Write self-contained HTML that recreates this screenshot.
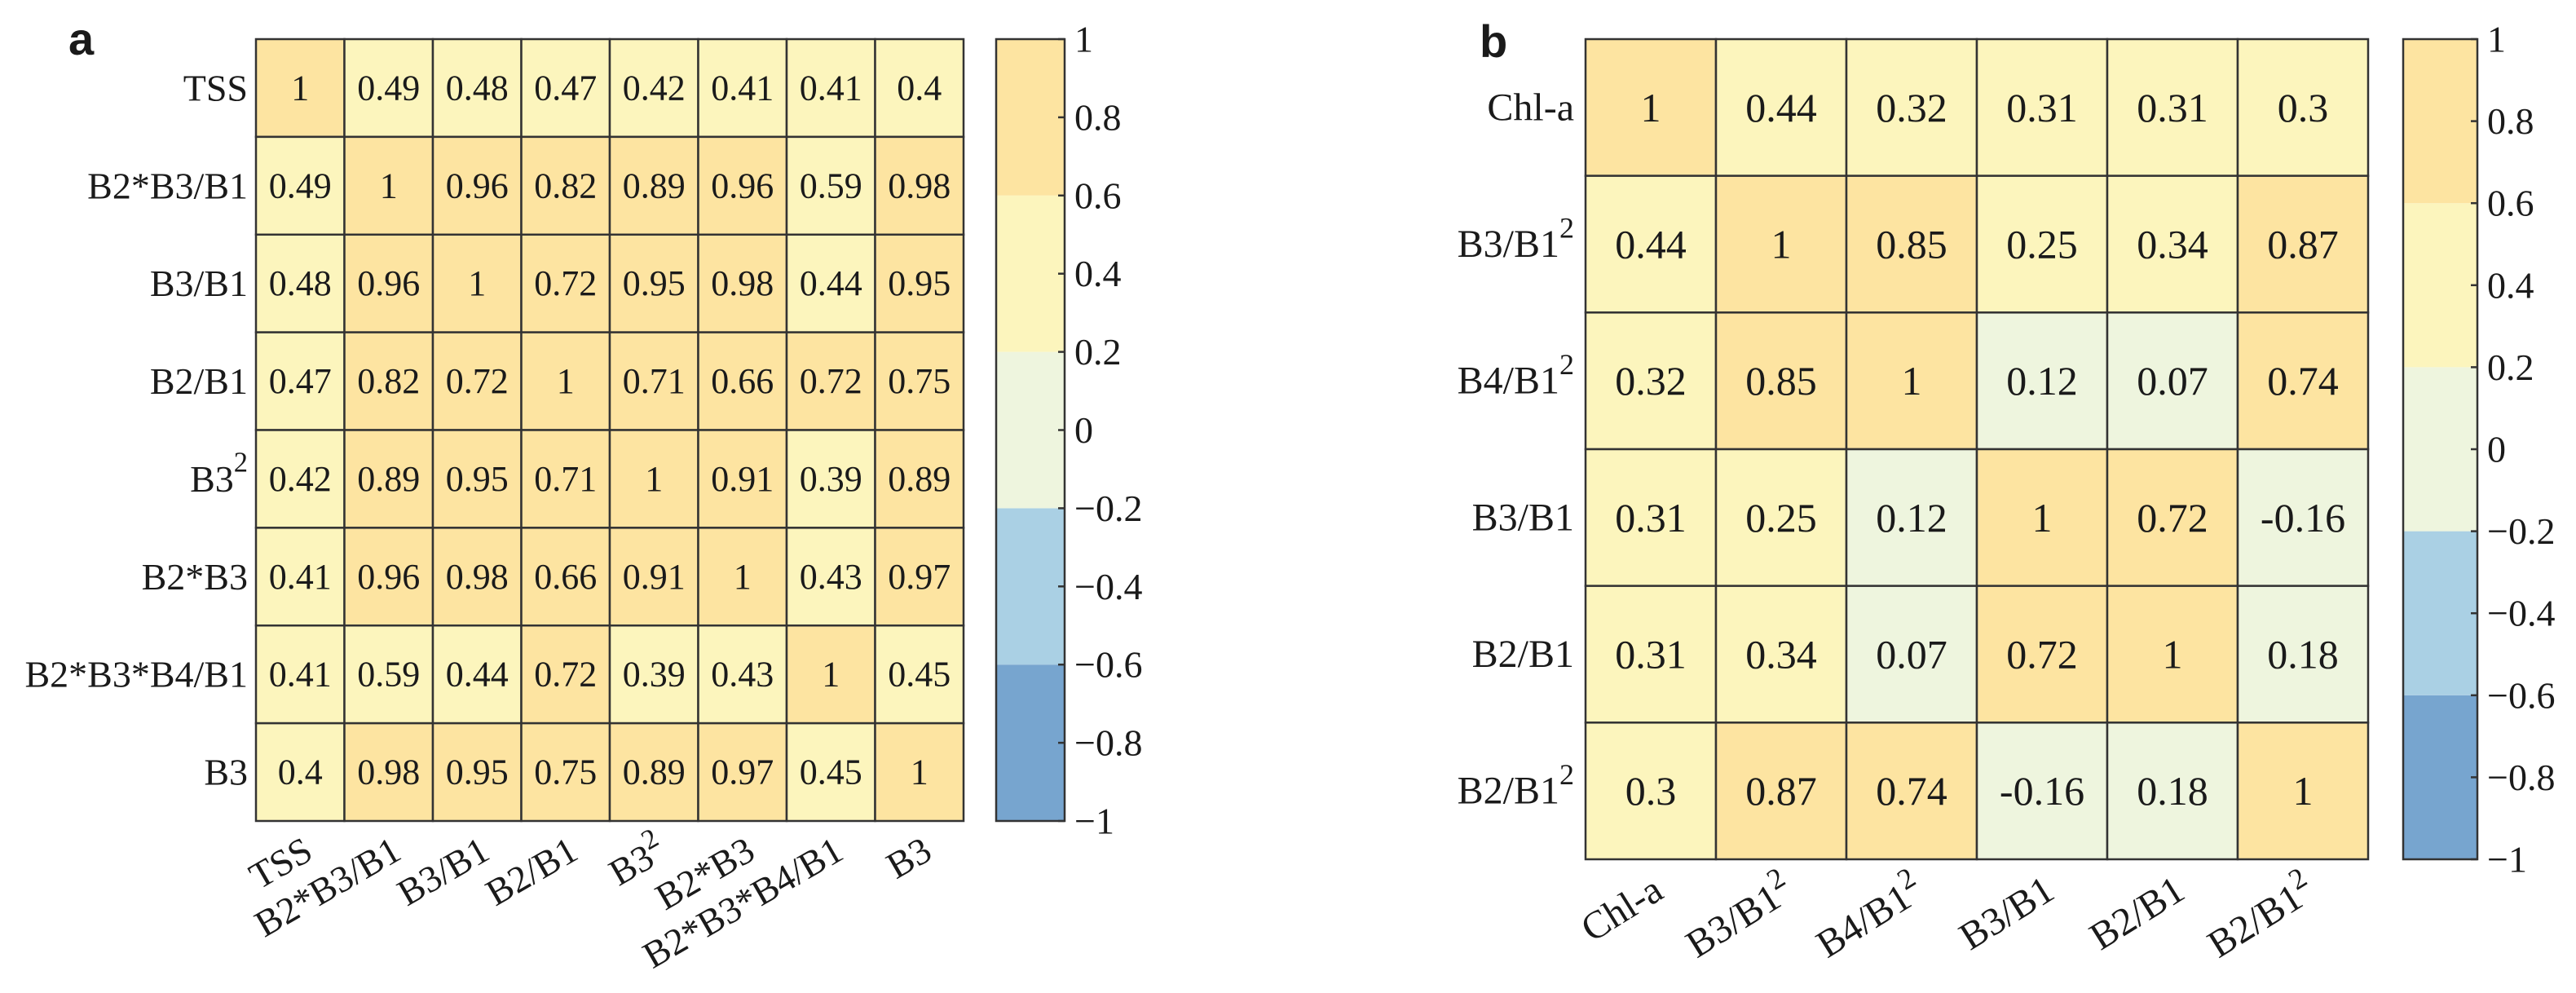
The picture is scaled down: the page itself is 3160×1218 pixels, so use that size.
<!DOCTYPE html>
<html><head><meta charset="utf-8"><style>
html,body{margin:0;padding:0;background:#fff;}
svg{display:block;}
svg text{font-family:"Liberation Serif","Times New Roman",serif;fill:#1a1a1a;}
</style></head><body>
<svg id="fig" width="3160" height="1218" viewBox="0 0 3160 1218" xmlns="http://www.w3.org/2000/svg" font-family="Liberation Serif, serif">
<text x="84" y="67" style="font-family:'Liberation Sans',sans-serif;font-weight:bold;font-size:56px">a</text>
<text x="1815" y="70" style="font-family:'Liberation Sans',sans-serif;font-weight:bold;font-size:56px">b</text>
<g id="pa"></g>
<g id="pb"></g>
</svg>
<script>
// Panel a data
const labelsA = [["TSS",""],["B2*B3/B1",""],["B3/B1",""],["B2/B1",""],["B3","2"],["B2*B3",""],["B2*B3*B4/B1",""],["B3",""]];
const valuesA = [
 [1,0.49,0.48,0.47,0.42,0.41,0.41,0.4],
 [0.49,1,0.96,0.82,0.89,0.96,0.59,0.98],
 [0.48,0.96,1,0.72,0.95,0.98,0.44,0.95],
 [0.47,0.82,0.72,1,0.71,0.66,0.72,0.75],
 [0.42,0.89,0.95,0.71,1,0.91,0.39,0.89],
 [0.41,0.96,0.98,0.66,0.91,1,0.43,0.97],
 [0.41,0.59,0.44,0.72,0.39,0.43,1,0.45],
 [0.4,0.98,0.95,0.75,0.89,0.97,0.45,1]
];
// Panel b data
const labelsB = [["Chl-a",""],["B3/B1","2"],["B4/B1","2"],["B3/B1",""],["B2/B1",""],["B2/B1","2"]];
const valuesB = [
 [1,0.44,0.32,0.31,0.31,0.3],
 [0.44,1,0.85,0.25,0.34,0.87],
 [0.32,0.85,1,0.12,0.07,0.74],
 [0.31,0.25,0.12,1,0.72,-0.16],
 [0.31,0.34,0.07,0.72,1,0.18],
 [0.3,0.87,0.74,-0.16,0.18,1]
];
const cbTicks = [1,0.8,0.6,0.4,0.2,0,-0.2,-0.4,-0.6,-0.8,-1];
const bandEdges = [-1,-0.6,-0.2,0.2,0.6,1];
const bandColors = ["#77a5cf","#aad0e4","#eef5de","#fcf5bd","#fde4a1"];

const NS="http://www.w3.org/2000/svg";
function mk(tag,attrs,parent){const e=document.createElementNS(NS,tag);for(const k in attrs)e.setAttribute(k,attrs[k]);parent.appendChild(e);return e;}
function colorOf(v){for(let i=0;i<bandColors.length;i++){if(v<=bandEdges[i+1]+1e-9)return bandColors[i];}return bandColors[bandColors.length-1];}
function fmt(v){return String(v);}
function fmtTick(v){return v<0?"\u2212"+String(-v):String(v);}
function addLabel(t,lab,supSize){t.appendChild(document.createTextNode(lab[0]));if(lab[1]){const s=document.createElementNS(NS,"tspan");s.setAttribute("dy","-20");s.setAttribute("font-size",supSize);s.textContent=lab[1];t.appendChild(s);}}

function draw(g,labels,values,o){
  const n=labels.length, cw=(o.x1-o.x0)/n, ch=(o.y1-o.y0)/n;
  const xs=i=>o.x0+i*cw, ys=j=>o.y0+j*ch;
  for(let r=0;r<n;r++)for(let c=0;c<n;c++){
    const v=values[r][c];
    const rc=mk("rect",{x:xs(c),y:ys(r),width:cw,height:ch,fill:colorOf(v),stroke:"#333",["stroke-width"]:2.5},g);
    
    
    const t=mk("text",{x:xs(c)+cw/2,y:ys(r)+ch/2,"text-anchor":"middle","dominant-baseline":"central","font-size":o.fs},g);
    
    
    t.textContent=fmt(v);
  }
  labels.forEach((lab,i)=>{
    const t=mk("text",{x:o.x0-o.gap,y:ys(i)+ch/2,"text-anchor":"end","dominant-baseline":"central","font-size":o.lfs},g);
    
    
    addLabel(t,lab,o.lfs*0.75);
    const ax=xs(i)+cw/2+o.xoff, ay=o.xy;
    const tx=mk("text",{x:ax,y:ay,"text-anchor":"end","font-size":o.lfs,transform:`rotate(${-o.ang} ${ax} ${ay})`},g);
    
    
    addLabel(tx,lab,o.lfs*0.75);
  });
  const cy=v=>o.y1-(v+1)/2*(o.y1-o.y0);
  for(let i=0;i<bandColors.length;i++){
    const b=mk("rect",{x:o.cb0,y:cy(bandEdges[i+1]),width:o.cb1-o.cb0,height:cy(bandEdges[i])-cy(bandEdges[i+1]),fill:bandColors[i]},g);
    
    
  }
  const fr=mk("rect",{x:o.cb0,y:o.y0,width:o.cb1-o.cb0,height:o.y1-o.y0,fill:"none",stroke:"#333","stroke-width":2.5},g);
  
  
  cbTicks.forEach(v=>{
    const y=cy(v);
    mk("line",{x1:o.cb1-8,x2:o.cb1,y1:y,y2:y,stroke:"#333","stroke-width":2.5},g);
    const t=mk("text",{x:o.cb1+12,y:y,"dominant-baseline":"central","font-size":o.cfs},g);
    
    
    t.textContent=fmtTick(v);
  });
}
draw(document.getElementById("pa"),labelsA,valuesA,{x0:314,x1:1182,y0:48,y1:1007,fs:44,lfs:46,gap:10,xoff:18,xy:1052,ang:30,cb0:1222,cb1:1306,cfs:46});
draw(document.getElementById("pb"),labelsB,valuesB,{x0:1945,x1:2905,y0:48,y1:1054,fs:50,lfs:48,gap:14,xoff:18,xy:1100,ang:32,cb0:2948,cb1:3039,cfs:46});
</script>
</body></html>
